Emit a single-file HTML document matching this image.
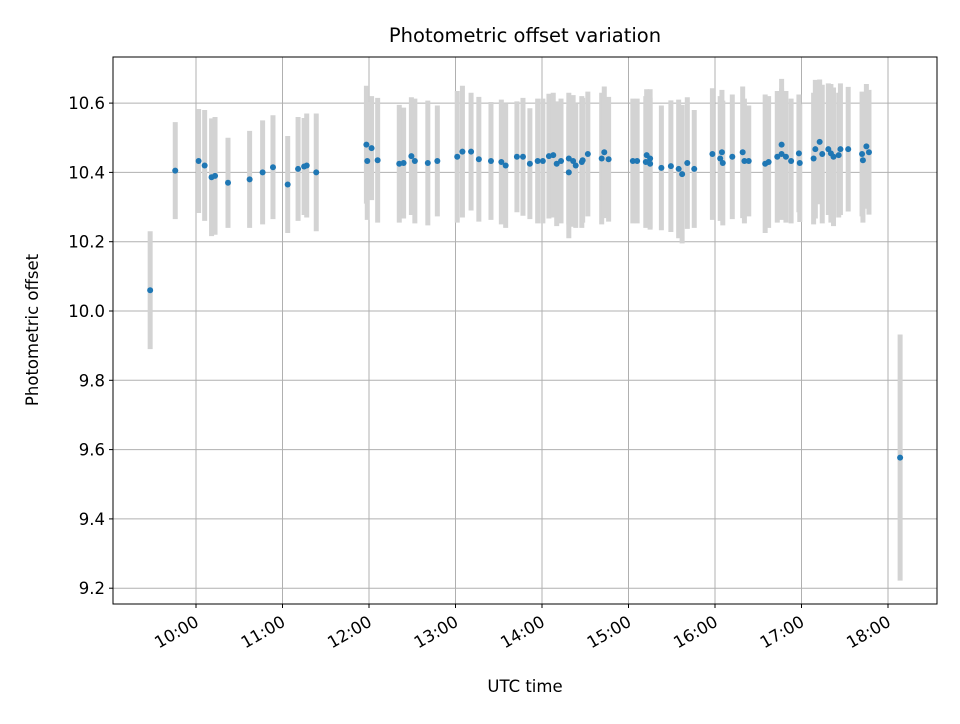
<!DOCTYPE html>
<html><head><meta charset="utf-8"><style>
body{margin:0;background:#fff;font-family:"DejaVu Sans","Liberation Sans",sans-serif}
</style></head><body>
<svg id="chart" width="960" height="720" xmlns="http://www.w3.org/2000/svg" font-family="'DejaVu Sans','Liberation Sans',sans-serif">
<rect width="960" height="720" fill="#fff"/>
<g id="grid"></g>
<g id="bars"></g>
<g id="pts"></g>
<rect x="113" y="57" width="824" height="547" fill="none" stroke="#000" stroke-width="1"/>
<g id="axes"></g>
<text x="525" y="42" text-anchor="middle" font-size="19.5">Photometric offset variation</text>
<text x="525" y="692" text-anchor="middle" font-size="16.5">UTC time</text>
<text transform="translate(38,330) rotate(-90)" text-anchor="middle" font-size="16.5">Photometric offset</text>
</svg>
<script>
const times=[9.47,9.76,10.03,10.10,10.18,10.22,10.37,10.62,10.77,10.89,11.06,11.18,11.25,11.28,11.39,11.97,11.98,12.03,12.10,12.35,12.40,12.49,12.53,12.68,12.79,13.02,13.08,13.18,13.27,13.41,13.53,13.58,13.71,13.78,13.86,13.95,14.01,14.08,14.13,14.17,14.22,14.31,14.31,14.36,14.39,14.46,14.47,14.53,14.69,14.72,14.77,15.05,15.10,15.21,15.20,15.25,15.25,15.38,15.49,15.58,15.62,15.68,15.76,15.97,16.06,16.08,16.09,16.20,16.32,16.34,16.39,16.58,16.62,16.72,16.77,16.77,16.82,16.88,16.97,16.98,17.14,17.16,17.21,17.24,17.31,17.34,17.37,17.43,17.45,17.54,17.70,17.71,17.75,17.78,18.14];
const values=[10.06,10.405,10.433,10.42,10.386,10.39,10.37,10.38,10.40,10.415,10.365,10.41,10.417,10.42,10.40,10.48,10.433,10.47,10.435,10.425,10.427,10.447,10.433,10.427,10.433,10.445,10.46,10.46,10.438,10.433,10.43,10.42,10.445,10.445,10.425,10.433,10.433,10.447,10.45,10.425,10.433,10.44,10.40,10.433,10.42,10.43,10.435,10.453,10.44,10.458,10.438,10.433,10.433,10.45,10.43,10.44,10.425,10.413,10.418,10.41,10.395,10.427,10.41,10.453,10.44,10.458,10.427,10.445,10.458,10.433,10.433,10.425,10.43,10.445,10.48,10.453,10.445,10.433,10.455,10.427,10.44,10.467,10.488,10.453,10.467,10.455,10.445,10.45,10.467,10.467,10.453,10.435,10.475,10.458,9.577];
const errors=[0.17,0.14,0.15,0.16,0.17,0.17,0.13,0.14,0.15,0.15,0.14,0.15,0.14,0.15,0.17,0.17,0.17,0.15,0.18,0.17,0.16,0.17,0.18,0.18,0.16,0.19,0.19,0.17,0.18,0.17,0.18,0.18,0.16,0.17,0.16,0.18,0.18,0.18,0.18,0.18,0.18,0.19,0.19,0.19,0.18,0.19,0.18,0.18,0.19,0.19,0.18,0.18,0.18,0.19,0.19,0.2,0.19,0.18,0.19,0.2,0.2,0.19,0.17,0.19,0.18,0.18,0.18,0.18,0.19,0.18,0.16,0.2,0.19,0.19,0.19,0.19,0.19,0.18,0.17,0.17,0.19,0.2,0.18,0.2,0.19,0.2,0.2,0.18,0.19,0.18,0.18,0.18,0.18,0.18,0.355];
const yTicks=[9.2,9.4,9.6,9.8,10.0,10.2,10.4,10.6];
const xTicks=[10,11,12,13,14,15,16,17,18];
const xTickLabels=["10:00","11:00","12:00","13:00","14:00","15:00","16:00","17:00","18:00"];
const NS="http://www.w3.org/2000/svg";
const X=h=>196+(h-10)*86.5;
const Y=v=>311-(v-10)*346.5;
function mk(tag,attrs,parent){const e=document.createElementNS(NS,tag);for(const k in attrs)e.setAttribute(k,attrs[k]);parent.appendChild(e);return e;}
const grid=document.getElementById('grid'),axes=document.getElementById('axes'),bars=document.getElementById('bars'),pts=document.getElementById('pts');
yTicks.forEach(t=>{const y=Y(t);
 const g=mk('line',{x1:113,x2:937,y1:y,y2:y,stroke:'#b0b0b0','stroke-width':1},grid);
 
 const tk=mk('line',{x1:109,x2:113,y1:y,y2:y,stroke:'#000'},axes);
 
 const tx=mk('text',{x:105,y:y+6,'text-anchor':'end','font-size':16.5},axes);tx.textContent=t.toFixed(1);
 
});
xTicks.forEach((t,i)=>{const x=X(t);
 const g=mk('line',{x1:x,x2:x,y1:57,y2:604,stroke:'#b0b0b0','stroke-width':1},grid);
 
 const tk=mk('line',{x1:x,x2:x,y1:604,y2:608,stroke:'#000'},axes);
 
 const tx=mk('text',{x:0,y:0,'text-anchor':'end','font-size':16.5,transform:`translate(${x+4},${625}) rotate(-30)`},axes);tx.textContent=xTickLabels[i];
 
});
times.forEach((t,i)=>{const x=X(t);
 const b=mk('line',{x1:x,x2:x,y1:Y(values[i]+errors[i]),y2:Y(values[i]-errors[i]),stroke:'#d3d3d3','stroke-width':5},bars);
 
});
times.forEach((t,i)=>{
 const c=mk('circle',{cx:X(t),cy:Y(values[i]),r:3,fill:'#1f77b4'},pts);
 
});
</script>
</body></html>
